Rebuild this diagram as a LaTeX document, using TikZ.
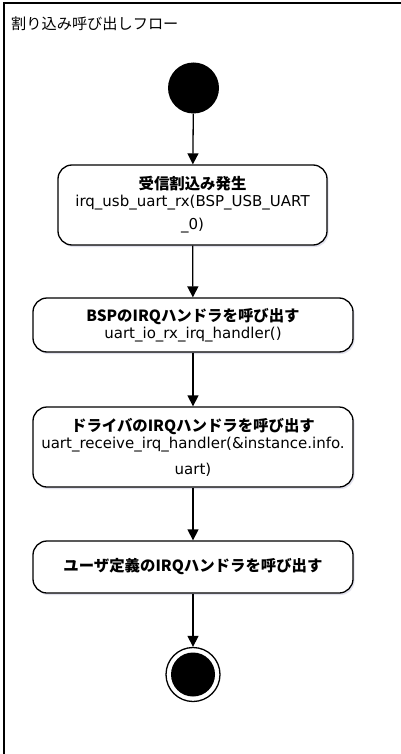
\documentclass[tikz,border=0pt]{standalone}
\usepackage{fontspec}
\usetikzlibrary{arrows.meta,shadows}
\newfontfamily\jp{Noto Sans CJK JP}
\newfontfamily\lat{DejaVu Sans}
\newcommand{\hdf}{\jp\bfseries\fontsize{15.4}{17}\selectfont}
\newcommand{\cdf}{\lat\fontsize{15}{17}\selectfont}
\begin{document}
\begin{tikzpicture}[x=1pt,y=-1pt,
  act/.style={draw=black, line width=1.3pt, rounded corners=14pt, fill=white,
    align=center, inner sep=0pt, font=\fontsize{15}{17}\selectfont,
    drop shadow={shadow xshift=1.5pt, shadow yshift=-2pt, fill=blue!25!gray!30, opacity=0.6}},
  flow/.style={line width=1.3pt, -{Triangle[width=11pt,length=11pt]}},
  ttl/.style={font=\jp\fontsize{15.2}{17}\selectfont},
]
\useasboundingbox (0,0) rectangle (401,754);
\fill[white] (0,0) rectangle (401,754);
% lane frame
\draw[line width=2pt] (4,754) -- (4,3) -- (401,3);
\node[ttl, anchor=west, inner sep=0pt] (title) at (11,24) {割り込み呼び出しフロー};

\node[circle, fill=black, minimum size=51pt, inner sep=0pt] (start) at (193.5,88) {};

\node[act, minimum width=269pt, minimum height=80pt] (b1) at (192.5,205)
  {{\hdf 受信割込み発生}\\
   {\cdf irq\_usb\_uart\_rx(BSP\_USB\_UART}\\[6pt]
   {\cdf \_0)}};

\node[act, minimum width=320pt, minimum height=54pt] (b2) at (193,325)
  {{\hdf BSPのIRQハンドラを呼び出す}\\
   {\cdf uart\_io\_rx\_irq\_handler()}};

\node[act, minimum width=320pt, minimum height=80pt] (b3) at (193,447)
  {{\hdf ドライバのIRQハンドラを呼び出す}\\
   {\cdf uart\_receive\_irq\_handler(\&instance.info.}\\[9pt]
   {\cdf uart)}};

\node[act, minimum width=320pt, minimum height=52pt] (b4) at (193,567)
  {{\hdf ユーザ定義のIRQハンドラを呼び出す}};

\node[circle, draw=black, line width=1.3pt, fill=white, minimum size=54pt, inner sep=0pt] (end) at (193,674.5) {};
\node[circle, fill=black, minimum size=44pt, inner sep=0pt] (endin) at (end.center) {};

\draw[flow] (start) -- (b1);
\draw[flow] (b1) -- (b2);
\draw[flow] (b2) -- (b3);
\draw[flow] (b3) -- (b4);
\draw[flow] (b4) -- (end);
\end{tikzpicture}
\end{document}
